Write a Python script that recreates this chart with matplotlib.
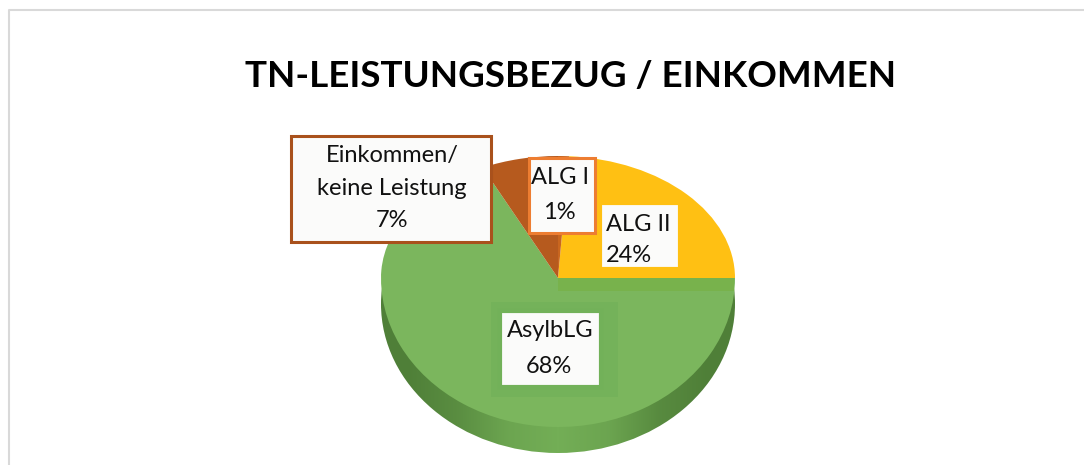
import numpy as np
import matplotlib
matplotlib.use('Agg')
import matplotlib.pyplot as plt
from matplotlib.colors import LinearSegmentedColormap
from matplotlib.patches import Ellipse, Rectangle

W, H = 1084, 465

# Daten
categories = ['ALG II', 'AsylbLG', 'Einkommen/\nkeine Leistung', 'ALG I']
values = [24, 68, 7, 1]
colors = ['#FFC013', '#7BB65D', '#B65A1E', '#C9661F']

plt.rcParams['font.family'] = ['Lato', 'DejaVu Sans']


def px_axes(x0, y0, x1, y1, **kw):
    # Achse in Pixelkoordinaten des Bildes (y nach unten)
    return fig.add_axes([x0 / W, 1 - y1 / H, (x1 - x0) / W, (y1 - y0) / H], **kw)


fig = plt.figure(figsize=(W / 100, H / 100), dpi=100, facecolor='white')

# Hintergrund mit Rahmen
bg = px_axes(0, 0, W, H)
bg.set_xlim(0, W)
bg.set_ylim(H, 0)
bg.axis('off')
bg.plot([8.5, 8.5, W], [H, 10, 10], color='#D9D9D9', lw=1.5)

# Seitenwand der Torte
cx, rx = 558, 177
side = px_axes(cx - rx, 278, cx + rx, 453)
side.axis('off')
grad = np.array([[0.0, 0.3, 0.8, 1.0, 0.8, 0.25, 0.0]])
cmap = LinearSegmentedColormap.from_list('side', ['#4F7F38', '#73AE56'])
im = side.imshow(grad, cmap=cmap, aspect='auto', extent=[0, 1, 0, 1], interpolation='bilinear')
clip = Ellipse((0.5, 149 / 175), 1, 2 * 149 / 175, transform=side.transAxes)
side.add_patch(clip)
clip.set_visible(False)
im.set_clip_path(clip)

# Torte: obere und untere Haelfte mit eigener Hoehe (Perspektive)
top = px_axes(cx - rx, 156, cx + rx, 278)
low = px_axes(cx - rx, 278, cx + rx, 427)
for ax, ylim in ((top, (0, 1)), (low, (-1, 0))):
    wedges, _ = ax.pie(values, colors=colors, startangle=86.4, counterclock=False,
                       radius=1, wedgeprops={'linewidth': 0})
    for w in wedges:
        w.set_clip_on(True)
    ax.set_aspect('auto')
    ax.set_xlim(-1, 1)
    ax.set_ylim(*ylim)
    ax.axis('off')
    ax.patch.set_alpha(0)

# Ueberlagerung fuer Kante und Beschriftungen
over = px_axes(0, 0, W, H)
over.set_xlim(0, W)
over.set_ylim(H, 0)
over.axis('off')
over.patch.set_alpha(0)
over.add_patch(Rectangle((558, 278), 176, 13, color='#78B24C', lw=0))

# Beschriftungen
boxes = [
    # x0, y0, x1, y1, Randfarbe, Randbreite
    (600, 203, 680, 269, '#FFC013', 3),
    (500, 311, 601, 387, '#72B159', 3),
    (291, 136, 491, 242, '#A9511C', 2.2),
    (529, 158, 595, 233, '#ED7D31', 2.2),
]
texts = [
    (606, 224, 'ALG II', 'left'),
    (606, 255, '24%', 'left'),
    (550, 330, 'AsylbLG', 'center'),
    (549, 366, '68%', 'center'),
    (392, 155, 'Einkommen/', 'center'),
    (392, 188, 'keine Leistung', 'center'),
    (392, 220, '7%', 'center'),
    (560, 177, 'ALG I', 'center'),
    (559, 212, '1%', 'center'),
]
over.add_patch(Rectangle((491, 302), 127, 95, color='#74B25A', lw=0))
for x0, y0, x1, y1, ec, lw in boxes:
    over.add_patch(Rectangle((x0, y0), x1 - x0, y1 - y0, facecolor='#FBFBFA',
                             edgecolor=ec, lw=lw))
for x, y, s, ha in texts:
    over.text(x, y, s, ha=ha, va='center', fontsize=17, color='#111111')

# Titel
over.text(571, 87, 'TN-LEISTUNGSBEZUG / EINKOMMEN', ha='center', va='baseline',
          fontsize=26.5, fontweight='bold', color='black')

fig.savefig('out.png', dpi=100)
